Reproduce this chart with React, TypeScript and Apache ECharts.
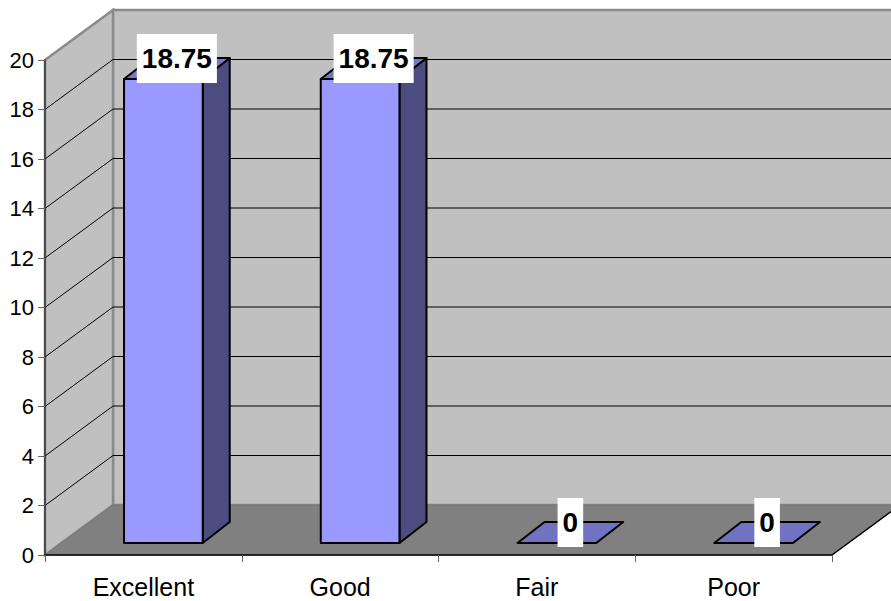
import React, { useEffect, useRef } from "react";
import * as echarts from "echarts";

const categories = ["Excellent", "Good", "Fair", "Poor"];
const values = [18.75, 18.75, 0, 0];
const yTicks = [0, 2, 4, 6, 8, 10, 12, 14, 16, 18, 20];
const yMax = 20;
const yInterval = 2;

// layout / style constants
const WALL_DX = 68;
const WALL_DY = 50;
const BAR_FRONT = { dx: 20, dy: -12 };
const BAR_BACK = { dx: 47, dy: -33 };
const FONT = '"Liberation Sans", Arial, Helvetica, sans-serif';

export default function App() {
  const ref = useRef<HTMLDivElement>(null);
  useEffect(() => {
    if (!ref.current) return;
    const chart = echarts.init(ref.current, undefined, { renderer: "svg" });

    const wallsRender = (params: any, api: any) => {
      const cs = params.coordSys;
      const x0 = cs.x, y0 = cs.y, w = cs.width, h = cs.height;
      const x1 = x0 + w, yb = y0 + h;
      return {
        type: "group",
        children: [
          {
            type: "polygon",
            shape: { points: [[x0 + WALL_DX, y0 - WALL_DY], [x1 + WALL_DX + 20, y0 - WALL_DY], [x1 + WALL_DX + 20, yb - WALL_DY], [x0 + WALL_DX, yb - WALL_DY]] },
            style: { fill: "#C0C0C0", stroke: "#8A8A8A", lineWidth: 2.5 },
          },
          {
            type: "polygon",
            shape: { points: [[x0, y0], [x0 + WALL_DX, y0 - WALL_DY], [x0 + WALL_DX, yb - WALL_DY], [x0, yb]] },
            style: { fill: "#C0C0C0", stroke: "#8A8A8A", lineWidth: 2.5 },
          },
          {
            type: "polygon",
            shape: { points: [[x0, yb], [x0 + WALL_DX, yb - WALL_DY], [x1 + WALL_DX, yb - WALL_DY], [x1, yb]] },
            style: { fill: "#808080", stroke: "#777777", lineWidth: 1 },
          },
          {
            type: "line",
            shape: { x1: x1, y1: yb, x2: x1 + WALL_DX, y2: yb - WALL_DY },
            style: { stroke: "#000", lineWidth: 1.5 },
          },
        ],
      };
    };

    const gridRender = (params: any, api: any) => {
      const cs = params.coordSys;
      const v = api.value(1);
      const y = api.coord([0, v])[1];
      if (v === 0 || v === yMax) return { type: "group", children: [] };
      return {
        type: "group",
        children: [
          {
            type: "line",
            shape: { x1: cs.x + WALL_DX, y1: y - WALL_DY, x2: cs.x + cs.width + WALL_DX + 20, y2: y - WALL_DY },
            style: { stroke: "#000", lineWidth: 1 },
          },
          {
            type: "line",
            shape: { x1: cs.x, y1: y, x2: cs.x + WALL_DX, y2: y - WALL_DY },
            style: { stroke: "#000", lineWidth: 1 },
          },
        ],
      };
    };

    const barRender = (params: any, api: any) => {
      const idx = api.value(0);
      const v = api.value(1);
      const base = api.coord([idx, 0]);
      const top = api.coord([idx, v]);
      const bw = api.size([1, 0])[0] * 0.4;
      const cx = base[0];
      const fl = cx - bw / 2 + BAR_FRONT.dx;
      const fr = cx + bw / 2 + BAR_FRONT.dx;
      const bl = cx - bw / 2 + BAR_BACK.dx;
      const br = cx + bw / 2 + BAR_BACK.dx;
      const yb = base[1] + BAR_FRONT.dy;
      const yt = top[1] + BAR_FRONT.dy;
      const ybb = base[1] + BAR_BACK.dy;
      const ytb = top[1] + BAR_BACK.dy;
      const stroke = { stroke: "#000", lineWidth: 2, lineJoin: "round" };
      const children: any[] = [];
      if (v > 0) {
        children.push({
          type: "polygon",
          shape: { points: [[fr, yb], [br, ybb], [br, ytb], [fr, yt]] },
          style: { fill: "#4C4C80", ...stroke },
        });
        children.push({
          type: "polygon",
          shape: { points: [[fl, yt], [fr, yt], [br, ytb], [bl, ytb]] },
          style: { fill: "#7676CC", ...stroke },
        });
        children.push({
          type: "rect",
          shape: { x: fl, y: yt, width: fr - fl, height: yb - yt },
          style: { fill: "#9999FF", ...stroke },
        });
      } else {
        children.push({
          type: "polygon",
          shape: { points: [[fl, yt], [fr, yt], [br, ytb], [bl, ytb]] },
          style: { fill: "#7272C2", ...stroke },
        });
      }
      const lx = cx + (BAR_FRONT.dx + BAR_BACK.dx) / 2;
      const ly = top[1] + (BAR_FRONT.dy + BAR_BACK.dy) / 2 - 10;
      children.push({
        type: "text",
        x: lx,
        y: ly,
        z2: 10,
        style: {
          text: String(v),
          fill: "#000",
          font: `bold 28px ${FONT}`,
          align: "center",
          verticalAlign: "middle",
          backgroundColor: "#fff",
          padding: [11, 5, 10, 5],
        },
      });
      return { type: "group", children };
    };

    chart.setOption({
      animation: false,
      backgroundColor: "#fff",
      grid: { left: 45, top: 60, width: 787, height: 495, containLabel: false },
      xAxis: {
        type: "category",
        data: categories,
        z: 5,
        boundaryGap: true,
        axisLine: { lineStyle: { color: "#000", width: 1.5 } },
        axisTick: { show: true, length: 7, lineStyle: { color: "#666" } },
        axisLabel: { color: "#000", fontSize: 25, fontFamily: FONT, margin: 19 },
        splitLine: { show: false },
      },
      yAxis: {
        type: "value",
        min: 0,
        max: yMax,
        interval: yInterval,
        z: 5,
        axisLine: { show: true, lineStyle: { color: "#333", width: 1.5 } },
        axisTick: { show: true, length: 7, lineStyle: { color: "#666" } },
        axisLabel: { color: "#000", fontSize: 22, fontFamily: FONT, margin: 11 },
        splitLine: { show: false },
      },
      series: [
        {
          type: "custom",
          z: 1,
          silent: true,
          renderItem: wallsRender,
          data: [[0, 0]],
        },
        {
          type: "custom",
          z: 2,
          silent: true,
          renderItem: gridRender,
          data: yTicks.map((t) => [0, t]),
        },
        {
          type: "custom",
          z: 3,
          renderItem: barRender,
          data: values.map((v, i) => [i, v]),
        },
      ],
    });
    return () => chart.dispose();
  }, []);
  return <div ref={ref} style={{ position: "fixed", left: 0, top: 0, width: 891, height: 601 }} />;
}
